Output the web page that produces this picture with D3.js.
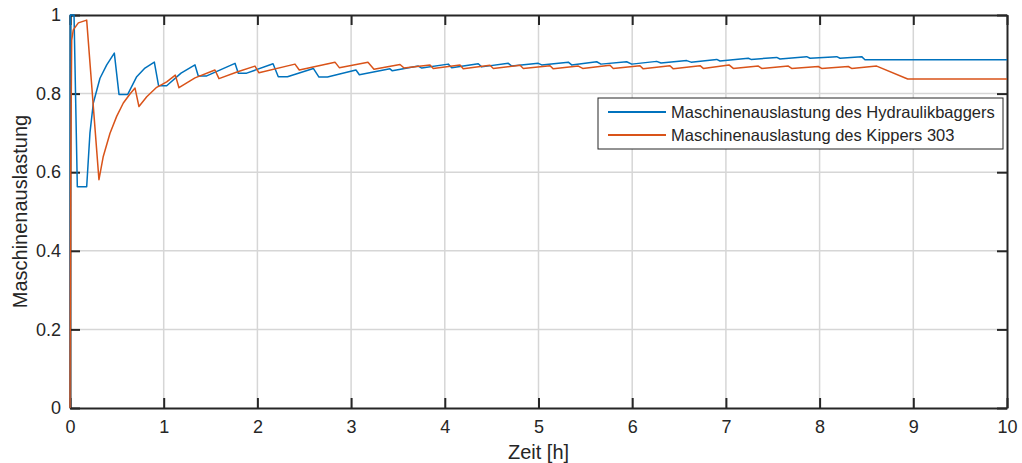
<html>
<head>
<meta charset="utf-8">
<title>Maschinenauslastung</title>
<style>
  body { margin: 0; background: #fff; }
  svg { display: block; }
  text { font-family: "Liberation Sans", Arial, sans-serif; fill: #262626; }
</style>
<script src="https://cdnjs.cloudflare.com/ajax/libs/d3/7.8.5/d3.min.js"></script>
</head>
<body>
<svg></svg>
<script>
// Hydraulikbagger (blau)
const timeBagger = [0, 0.003, 0.043, 0.078, 0.178, 0.213, 0.249, 0.320, 0.392, 0.473,
  0.523, 0.616, 0.712, 0.800, 0.900, 0.945, 1.032, 1.185, 1.334, 1.369, 1.459, 1.761,
  1.796, 1.886, 2.167, 2.223, 2.321, 2.597, 2.657, 2.748, 3.052, 3.088, 3.415, 3.440,
  3.717, 3.754, 4.037, 4.074, 4.357, 4.394, 4.678, 4.714, 4.998, 5.034, 5.318, 5.354,
  5.621, 5.667, 5.941, 5.995, 6.261, 6.307, 6.582, 6.628, 6.902, 6.937, 7.239, 7.268,
  7.542, 7.577, 7.862, 7.898, 8.183, 8.218, 8.449, 8.484, 10];
const utilBagger = [0, 1.0, 1.0, 0.563, 0.563, 0.700, 0.776, 0.839, 0.873, 0.903,
  0.798, 0.798, 0.843, 0.865, 0.880, 0.820, 0.820, 0.852, 0.873, 0.845, 0.845, 0.877,
  0.852, 0.852, 0.876, 0.843, 0.843, 0.864, 0.842, 0.842, 0.860, 0.848, 0.863, 0.858,
  0.870, 0.865, 0.875, 0.866, 0.876, 0.868, 0.877, 0.870, 0.877, 0.873, 0.880, 0.873,
  0.881, 0.875, 0.881, 0.875, 0.882, 0.878, 0.884, 0.880, 0.887, 0.883, 0.890, 0.887,
  0.892, 0.888, 0.894, 0.890, 0.894, 0.890, 0.894, 0.886, 0.886];

// Kipper 303 (orange)
const timeKipper = [0, 0.007, 0.018, 0.035, 0.089, 0.178, 0.309, 0.355, 0.427, 0.498,
  0.569, 0.640, 0.694, 0.736, 0.819, 0.925, 1.032, 1.124, 1.163, 1.334, 1.547, 1.590,
  1.782, 1.974, 2.017, 2.401, 2.447, 2.828, 2.874, 3.180, 3.244, 3.522, 3.565, 3.842,
  3.877, 4.162, 4.197, 4.482, 4.518, 4.803, 4.838, 5.123, 5.158, 5.425, 5.472, 5.763,
  5.798, 6.083, 6.118, 6.403, 6.439, 6.724, 6.759, 7.033, 7.079, 7.346, 7.382, 7.666,
  7.702, 7.986, 8.022, 8.306, 8.342, 8.609, 8.940, 10];
const utilKipper = [0, 0.60, 0.936, 0.962, 0.980, 0.987, 0.581, 0.640, 0.699, 0.742,
  0.776, 0.799, 0.814, 0.767, 0.792, 0.816, 0.830, 0.847, 0.815, 0.840, 0.860, 0.838,
  0.855, 0.870, 0.853, 0.875, 0.860, 0.880, 0.866, 0.880, 0.862, 0.874, 0.865, 0.873,
  0.864, 0.873, 0.863, 0.872, 0.864, 0.872, 0.864, 0.871, 0.863, 0.870, 0.864, 0.872,
  0.864, 0.871, 0.863, 0.871, 0.863, 0.871, 0.864, 0.873, 0.864, 0.870, 0.864, 0.870,
  0.864, 0.869, 0.864, 0.869, 0.864, 0.870, 0.837, 0.837];

const xTicks = [0, 1, 2, 3, 4, 5, 6, 7, 8, 9, 10];
const yTicks = [0, 0.2, 0.4, 0.6, 0.8, 1];
const seriesNames = ['Maschinenauslastung des Hydraulikbaggers', 'Maschinenauslastung des Kippers 303'];
const seriesColors = ['#0072BD', '#D95319'];

const width = 1022;
const height = 463;
const margin = { top: 15, right: 15, bottom: 55, left: 70 };
const w = width - margin.left - margin.right;
const h = height - margin.top - margin.bottom;

const svg = d3.select('svg')
  .attr('width', width)
  .attr('height', height);

const g = svg.append('g')
  .attr('transform', `translate(${margin.left},${margin.top})`);

const x = d3.scaleLinear().domain([0, 10]).range([0, w]);
const y = d3.scaleLinear().domain([0, 1]).range([h, 0]);

// grid
g.append('g')
  .selectAll('line')
  .data(xTicks.slice(1, -1))
  .enter()
  .append('line')
  .attr('x1', d => x(d)).attr('x2', d => x(d))
  .attr('y1', 0).attr('y2', h)
  .attr('stroke', '#d6d6d6').attr('stroke-width', 1.5);
g.append('g')
  .selectAll('line')
  .data(yTicks.slice(1, -1))
  .enter()
  .append('line')
  .attr('y1', d => y(d)).attr('y2', d => y(d))
  .attr('x1', 0).attr('x2', w)
  .attr('stroke', '#d6d6d6').attr('stroke-width', 1.5);

// axes (ticks inside, box)
const tickLen = 10;
const xAxis = g.append('g')
  .attr('transform', `translate(0,${h})`)
  .call(d3.axisBottom(x).tickValues(xTicks).tickFormat(d3.format('d')).tickSizeInner(-tickLen).tickSizeOuter(0).tickPadding(12));
const yAxis = g.append('g')
  .call(d3.axisLeft(y).tickValues(yTicks).tickFormat(d => d === 0 || d === 1 ? d : d.toFixed(1)).tickSizeInner(-tickLen).tickSizeOuter(0).tickPadding(9));
g.append('g')
  .call(d3.axisTop(x).tickValues(xTicks).tickFormat('').tickSizeInner(-tickLen).tickSizeOuter(0));
g.append('g')
  .attr('transform', `translate(${w},0)`)
  .call(d3.axisRight(y).tickValues(yTicks).tickFormat('').tickSizeInner(-tickLen).tickSizeOuter(0));

g.selectAll('.domain').attr('stroke', '#262626').attr('stroke-width', 2);
g.selectAll('.tick line').attr('stroke', '#262626').attr('stroke-width', 2);
g.selectAll('.tick text').attr('font-size', 18).attr('fill', '#262626')
  .attr('font-family', '"Liberation Sans", Arial, sans-serif');
xAxis.selectAll('.tick text').attr('dy', '0.71em');

// labels
svg.append('text')
  .attr('x', margin.left + w / 2)
  .attr('y', 459)
  .attr('text-anchor', 'middle')
  .attr('font-size', 20)
  .text('Zeit [h]');
svg.append('text')
  .attr('transform', `translate(27,${margin.top + h / 2}) rotate(-90)`)
  .attr('text-anchor', 'middle')
  .attr('font-size', 20)
  .text('Maschinenauslastung');

// lines
const series = [
  timeBagger.map((t, i) => ({ t, v: utilBagger[i] })),
  timeKipper.map((t, i) => ({ t, v: utilKipper[i] }))
];
const line = d3.line().x(d => x(d.t)).y(d => y(d.v));

g.selectAll('.series')
  .data(series)
  .enter()
  .append('path')
  .attr('class', 'series')
  .attr('d', line)
  .attr('fill', 'none')
  .attr('stroke', (d, i) => seriesColors[i])
  .attr('stroke-width', 1.5)
  .attr('stroke-linejoin', 'round');

// legend
const legend = svg.append('g').attr('transform', 'translate(598,98)');
legend.append('rect')
  .attr('width', 405).attr('height', 51)
  .attr('fill', '#fff')
  .attr('stroke', '#262626').attr('stroke-width', 1);
const item = legend.selectAll('.item')
  .data(seriesNames)
  .enter()
  .append('g')
  .attr('class', 'item')
  .attr('transform', (d, i) => `translate(0,${14 + i * 23})`);
item.append('line')
  .attr('x1', 10).attr('x2', 68)
  .attr('stroke', (d, i) => seriesColors[i])
  .attr('stroke-width', 1.8);
item.append('text')
  .attr('x', 73)
  .attr('dy', '0.35em')
  .attr('font-size', 16.5)
  .text(d => d);
</script>
</body>
</html>
